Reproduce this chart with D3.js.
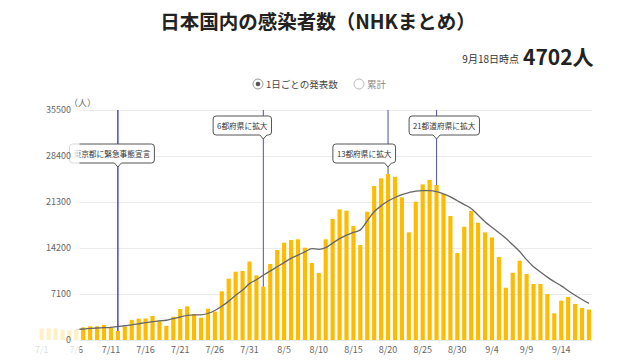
<!DOCTYPE html>
<html><head><meta charset="utf-8">
<script src="https://cdn.jsdelivr.net/npm/d3@7"></script>
<style>
html,body{margin:0;padding:0;background:#fff;}
svg{display:block;font-family:"Noto Sans CJK JP","Noto Sans",sans-serif;}
</style></head>
<body><svg id="c" width="640" height="360"></svg>
<script>
// ---- data ----
const dates = d3.timeDay.range(new Date(2021,6,1), new Date(2021,8,19)).map(d3.timeFormat("%-m/%-d"));
const dailyCases = [
 1750,1800,1800,1600,1500,1650,1955,2110,2110,2315,1900,1390,2060,3090,3290,3320,3720,3000,2190,3600,
 4780,5190,4010,3445,4835,4370,7510,9460,10540,10650,12110,
 9980,8225,11730,13890,15015,15430,15535,14245,11880,10340,15535,18670,20160,19955,17590,14660,19800,23760,24950,25610,
 25200,22020,16615,21340,24020,24690,23920,22530,19135,13425,17480,
 19900,18100,16615,15845,12800,8070,10385,12235,10185,8640,8640,7100,4115,6070,6635,5555,4940,4702
];
const avgStart = "7/6";
const avg7 = [
 1620,1700,1780,1850,1900,1960,2100,2200,2350,2500,2680,2820,2950,3050,3300,3550,3800,3880,3870,4100,
 4550,5200,6000,6900,7700,8700,
 9300,10000,10650,11300,11950,12600,13100,13600,14100,14000,14250,14950,15650,16200,16600,17000,18400,19800,20700,21450,
 22000,22450,22750,22990,23050,23050,22900,22550,22100,21500,20900,
 20300,19300,18250,17400,16550,15700,14700,13650,12400,11300,10500,9700,9000,8350,7600,6900,6250,5650
];
const yTicks = [0,7100,14200,21300,28400,35500];
const xTickLabels = ["7/1","7/6","7/11","7/16","7/21","7/26","7/31","8/5","8/10","8/15","8/20","8/25","8/30","9/4","9/9","9/14"];
const eventDates = ["7/12","8/2","8/20","8/27"];
const eventLabels = ["東京都に緊急事態宣言","6都府県に拡大","13都府県に拡大","21都道府県に拡大"];
const titleText = "日本国内の感染者数（NHKまとめ）";
const asOfText = "9月18日時点";
const latestText = "4702人";
const legendLabels = ["1日ごとの発表数","累計"];

// ---- layout ----
const svg = d3.select("#c");
svg.append("rect").attr("width",640).attr("height",360).attr("fill","#fff");
const x = d3.scaleBand().domain(dates).range([38.2,592.4]).paddingInner(0.4).paddingOuter(0.2);
const y = d3.scaleLinear().domain([0,35500]).range([340,110]);
const gridLeft = 75, clipLeft = 79.5, plotRight = 592.4;
const xc = d => x(d) + x.bandwidth()/2;

// header
svg.append("text").attr("x",318).attr("y",29).attr("text-anchor","middle")
  .attr("font-size",19.5).attr("font-weight","bold").attr("fill","#222").text(titleText);
svg.append("text").attr("x",519).attr("y",63).attr("text-anchor","end")
  .attr("font-size",10).attr("fill","#333").text(asOfText);
svg.append("text").attr("x",523).attr("y",65).attr("font-size",21)
  .attr("font-weight","bold").attr("fill","#222").text(latestText);
// legend
svg.append("circle").attr("cx",258).attr("cy",84).attr("r",5).attr("fill","#fff").attr("stroke","#999");
svg.append("circle").attr("cx",258).attr("cy",84).attr("r",2.3).attr("fill","#555");
svg.append("text").attr("x",266).attr("y",87.5).attr("font-size",9.5).attr("fill","#444").text(legendLabels[0]);
svg.append("circle").attr("cx",359).attr("cy",84).attr("r",5).attr("fill","#fff").attr("stroke","#bbb");
svg.append("text").attr("x",367).attr("y",87.5).attr("font-size",9.5).attr("fill","#888").text(legendLabels[1]);

// gridlines
const grid = svg.append("g").attr("transform",`translate(${plotRight},0)`)
  .call(d3.axisLeft(y).tickValues(yTicks).tickSize(plotRight-gridLeft).tickFormat(""));
grid.select(".domain").remove();
grid.selectAll("line").attr("stroke","#ebebeb");

// bars
svg.append("g").selectAll("rect").data(dailyCases).join("rect")
  .attr("x",(d,i)=>x(dates[i])).attr("width",x.bandwidth())
  .attr("y",d=>y(d)).attr("height",d=>y(0)-y(d)).attr("fill","#ffbb00");

// 7-day average line
const avgDates = dates.slice(dates.indexOf(avgStart));
svg.append("path").datum(avg7)
  .attr("d",d3.line().x((d,i)=>xc(avgDates[i])).y(d=>y(d)).curve(d3.curveMonotoneX))
  .attr("fill","none").attr("stroke","#666").attr("stroke-width",1.3);

// event lines + callouts
const calloutFrac = [0.57,0.86,0.88,0.39];
const calloutTop = [144,116,144,116];
const lineColors = ["#5148c6","#5f5fab","#5f5fab","#5f5fab"];
const lineWidths = [1.5,1.1,1.1,1.1];
eventDates.forEach((ed,k)=>{
  const lx = xc(ed), top = y(dailyCases[dates.indexOf(ed)]);
  svg.append("line").attr("x1",lx).attr("x2",lx).attr("y1",y(35500)).attr("y2",top)
    .attr("stroke",lineColors[k]).attr("stroke-width",lineWidths[k]);
  const g = svg.append("g");
  const t = g.append("text").attr("font-size",7.7).attr("fill","#333").text(eventLabels[k]);
  const w = t.node().getComputedTextLength() + 8, h = 19;
  const bx = lx - w*calloutFrac[k], by = calloutTop[k];
  const p = d3.path();
  p.moveTo(bx+3,by); p.lineTo(bx+w-3,by); p.quadraticCurveTo(bx+w,by,bx+w,by+3);
  p.lineTo(bx+w,by+h-3); p.quadraticCurveTo(bx+w,by+h,bx+w-3,by+h);
  p.lineTo(lx+3.5,by+h); p.lineTo(lx,by+h+4); p.lineTo(lx-3.5,by+h);
  p.lineTo(bx+3,by+h); p.quadraticCurveTo(bx,by+h,bx,by+h-3);
  p.lineTo(bx,by+3); p.quadraticCurveTo(bx,by,bx+3,by); p.closePath();
  g.insert("path","text").attr("d",p.toString()).attr("fill","#fff").attr("stroke","#555").attr("stroke-width",1);
  t.attr("x",bx+4).attr("y",by+12.8);
});

// x axis labels
const xa = svg.append("g").attr("transform","translate(0,342)")
  .call(d3.axisBottom(x).tickValues(xTickLabels).tickSize(0).tickPadding(5));
xa.select(".domain").remove();
xa.selectAll("text").attr("font-size",9).attr("fill","#666").attr("font-family","'Noto Sans CJK JP',sans-serif");

// fade overlay for overflow region
svg.append("rect").attr("x",0).attr("y",96).attr("width",clipLeft).attr("height",264)
  .attr("fill","#fff").attr("opacity",0.78);

// y axis labels
const ya = svg.append("g").attr("transform","translate(71,0)")
  .call(d3.axisLeft(y).tickValues(yTicks).tickSize(0).tickPadding(0).tickFormat(d3.format("d")));
ya.select(".domain").remove();
ya.selectAll("text").attr("font-size",9).attr("fill","#666").attr("font-family","'Noto Sans CJK JP',sans-serif");
svg.append("text").attr("x",69).attr("y",106).attr("font-size",9).attr("fill","#666").text("（人）");
</script></body></html>
